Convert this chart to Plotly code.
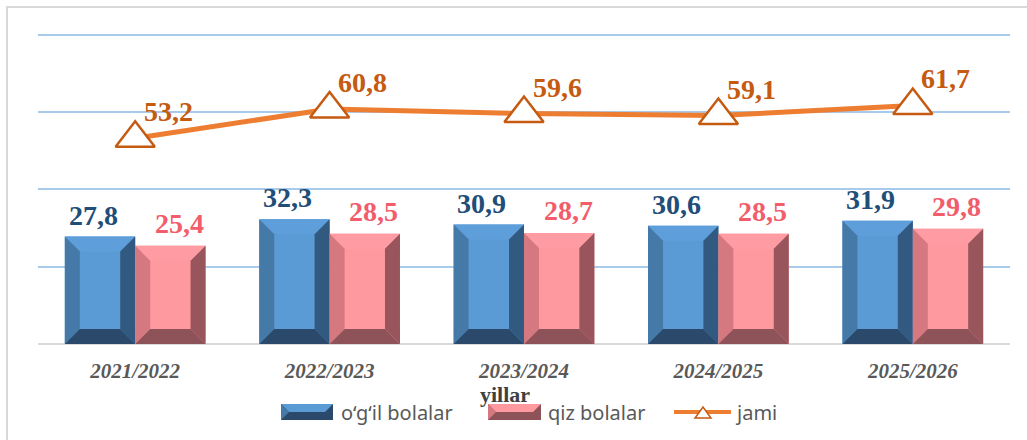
import plotly.graph_objects as go

years = ["2021/2022", "2022/2023", "2023/2024", "2024/2025", "2025/2026"]
boys = [27.8, 32.3, 30.9, 30.6, 31.9]
girls = [25.4, 28.5, 28.7, 28.5, 29.8]
total = [53.2, 60.8, 59.6, 59.1, 61.7]
series_names = ["o\u2018g\u2018il bolalar", "qiz bolalar", "jami"]
axis_title = "yillar"

# layout constants (pixels)
W, H = 1027, 440
PL, PR, PB = 38, 1010, 344
PXU = 3.8625        # pixels per y unit
YMAX = 82
PT = round(PB - YMAX * PXU)
BW = 0.362          # bar width in category units
DX = 15 / ((PR - PL) / 5)     # bevel width in x units
DY = 15 / ((PB - PT) / YMAX)  # bevel height in y units

BLUE = dict(face="#5B9BD5", top="#5E9EDA", left="#4579A8", right="#325A80", bottom="#2B4A6B")
PINK = dict(face="#FF99A0", top="#FF9CA3", left="#D67880", right="#98555B", bottom="#8E5358")

xs = list(range(len(years)))
fig = go.Figure()

fig.add_trace(go.Bar(x=xs, y=boys, width=BW, offset=-BW, name=series_names[0],
                     marker=dict(color=BLUE["face"], line=dict(width=0)), showlegend=False))
fig.add_trace(go.Bar(x=xs, y=girls, width=BW, offset=0, name=series_names[1],
                     marker=dict(color=PINK["face"], line=dict(width=0)), showlegend=False))
fig.add_trace(go.Scatter(x=xs, y=total, mode="lines+markers", name=series_names[2],
                         line=dict(color="#ED7D31", width=5),
                         marker=dict(symbol="triangle-up", size=34, color="white",
                                     line=dict(color="#C55A11", width=2.5)),
                         showlegend=False))

shapes = []


def poly(pts, color, xref="x", yref="y"):
    path = "M " + " L ".join(f"{x},{y}" for x, y in pts) + " Z"
    return dict(type="path", path=path, xref=xref, yref=yref, fillcolor=color,
                line=dict(width=0), layer="above")


def bevel(x0, x1, v, c):
    return [
        poly([(x0, v), (x1, v), (x1 - DX, v - DY), (x0 + DX, v - DY)], c["top"]),
        poly([(x0, 0), (x0, v), (x0 + DX, v - DY), (x0 + DX, DY)], c["left"]),
        poly([(x1, 0), (x1, v), (x1 - DX, v - DY), (x1 - DX, DY)], c["right"]),
        poly([(x0, 0), (x1, 0), (x1 - DX, DY), (x0 + DX, DY)], c["bottom"]),
    ]


for i, (b, g) in enumerate(zip(boys, girls)):
    shapes += bevel(i - BW, i, b, BLUE)
    shapes += bevel(i, i + BW, g, PINK)


def fx(px):
    return (px - PL) / (PR - PL)


def fy(py):
    return (PB - py) / (PB - PT)


# outer frame
shapes.append(dict(type="rect", xref="paper", yref="paper", x0=fx(7), x1=fx(1040),
                   y0=fy(460), y1=fy(7), line=dict(color="#D9D9D9", width=2),
                   fillcolor="rgba(0,0,0,0)", layer="below"))

# manual legend swatches
def swatch(x0, x1, y0, y1, light, mid, dark):
    ym = (y0 + y1) / 2
    d = 8
    return [
        poly([(fx(x0), fy(y0)), (fx(x1), fy(y0)), (fx(x1), fy(y1)), (fx(x0), fy(y1))], dark, "paper", "paper"),
        poly([(fx(x0), fy(y0)), (fx(x1), fy(y0)), (fx(x1 - d), fy(ym)), (fx(x0 + d), fy(ym))], light, "paper", "paper"),
        poly([(fx(x0), fy(y0)), (fx(x0 + d), fy(ym)), (fx(x0), fy(y1))], mid, "paper", "paper"),
    ]


shapes += swatch(281, 333, 404, 420, BLUE["face"], BLUE["left"], BLUE["bottom"])
shapes += swatch(488, 541, 404, 420, PINK["face"], PINK["left"], PINK["bottom"])
shapes.append(dict(type="line", xref="paper", yref="paper", x0=fx(674), x1=fx(731),
                   y0=fy(412), y1=fy(412), line=dict(color="#ED7D31", width=4)))
shapes.append(dict(type="path", xref="paper", yref="paper",
                   path=f"M {fx(695)},{fy(418)} L {fx(711)},{fy(418)} L {fx(703)},{fy(407)} Z",
                   fillcolor="white", line=dict(color="#C55A11", width=1.5)))

annotations = []
SERIF = "Liberation Serif, Times New Roman, serif"
fmt = lambda v: f"{v:.1f}".replace(".", ",")
for i, (b, g, t) in enumerate(zip(boys, girls, total)):
    annotations.append(dict(x=i - BW / 2, y=b, text=fmt(b), showarrow=False, yanchor="bottom",
                            xshift=-7, yshift=4,
                            font=dict(family=SERIF, size=28, color="#1F4E79", weight="bold")))
    annotations.append(dict(x=i + BW / 2, y=g, text=fmt(g), showarrow=False, yanchor="bottom",
                            xshift=9, yshift=5,
                            font=dict(family=SERIF, size=28, color="#F25C6B", weight="bold")))
    annotations.append(dict(x=i, y=t, text=fmt(t), showarrow=False, yanchor="bottom",
                            xshift=33, yshift=9,
                            font=dict(family=SERIF, size=28, color="#C55A11", weight="bold")))

annotations.append(dict(xref="paper", yref="paper", x=fx(505), y=fy(395), text=axis_title,
                        showarrow=False, xanchor="center", yanchor="middle",
                        font=dict(family=SERIF, size=22, color="#404040", weight="bold")))
SANS = "Noto Sans, Open Sans, sans-serif"
for px_, name in [(339, series_names[0]), (546, series_names[1]), (733, series_names[2])]:
    annotations.append(dict(xref="paper", yref="paper", x=fx(px_), y=fy(412), text=name,
                            showarrow=False, xanchor="left", yanchor="middle",
                            font=dict(family=SANS, size=20, color="#595959")))

fig.update_layout(
    width=W, height=H,
    margin=dict(l=PL, r=W - PR, t=PT, b=H - PB),
    paper_bgcolor="white", plot_bgcolor="white",
    showlegend=False,
    barmode="overlay",
    shapes=shapes,
    annotations=annotations,
    xaxis=dict(range=[-0.5, len(years) - 0.5], tickmode="array", tickvals=xs, ticktext=years,
               showgrid=False, zeroline=False, showline=False, ticks="",
               ticklabelstandoff=12,
               tickfont=dict(family=SERIF, size=21, color="#595959", weight="bold", style="italic")),
    yaxis=dict(range=[0, YMAX], tickmode="array", tickvals=[0, 20, 40, 60, 80],
               showticklabels=False, ticks="",
               showgrid=True, gridcolor="#A9CBEB", gridwidth=2,
               zeroline=True, zerolinecolor="#D9D9D9", zerolinewidth=2, showline=False),
)

fig.write_html("out.html", config={"displayModeBar": False},
               post_script="document.body.style.margin='0';")
